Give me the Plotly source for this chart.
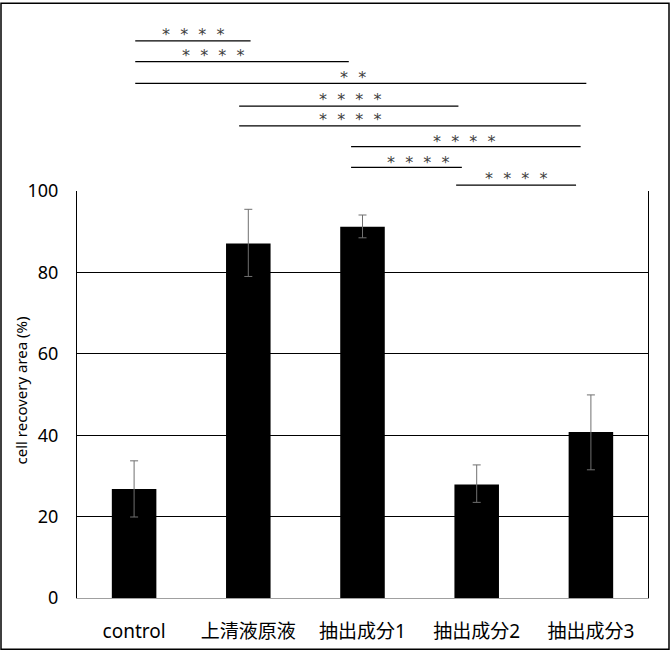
import plotly.graph_objects as go

categories = ["control", "上清液原液", "抽出成分1", "抽出成分2", "抽出成分3"]
recovery = [26.8, 87.1, 91.2, 27.9, 40.8]
err_plus = [6.9, 8.4, 2.9, 4.8, 9.1]
err_minus = [6.9, 8.1, 2.7, 4.4, 9.3]
y_ticks = [0, 20, 40, 60, 80, 100]

# significance brackets: (start, end) in category units, label
sp = "\u00a0\u00a0"
stars4 = sp.join(["*"] * 4)
stars2 = sp.join(["*"] * 2)
comparisons = [
    (0.01, 1.02, stars4),
    (0.01, 1.88, stars4),
    (0.01, 3.96, stars2),
    (0.92, 2.84, stars4),
    (0.92, 3.91, stars4),
    (1.90, 3.91, stars4),
    (1.90, 2.87, stars4),
    (2.82, 3.87, stars4),
]

W, H = 670, 656
L, R, T, B = 77, 22, 191, 53
pw, ph = W - L - R, H - T - B

fig = go.Figure(go.Bar(
    x=categories, y=recovery, width=0.39,
    marker=dict(color="#000000", line=dict(width=0)),
    error_y=dict(type="data", symmetric=False, array=err_plus, arrayminus=err_minus,
                 color="#707070", thickness=1, width=4),
))

def to_paper_x(v):
    return (v + 0.5) / len(categories)

line_px = [39, 60, 82, 105, 125, 146, 167, 185]
text_cx = [193, 213, 353, 350, 350, 464, 418, 516]
text_px = [33, 54, 76, 98, 119, 141, 162, 178]
for (a, b, lab), ly, tx, ty in zip(comparisons, line_px, text_cx, text_px):
    yp = (H - B - ly) / ph
    fig.add_shape(type="line", xref="paper", yref="paper",
                  x0=to_paper_x(a), x1=to_paper_x(b), y0=yp, y1=yp,
                  line=dict(color="#000000", width=1.3))
    fig.add_annotation(text=lab, xref="paper", yref="paper",
                       x=(tx - L) / pw, y=(H - B - ty) / ph,
                       showarrow=False, xanchor="center", yanchor="middle",
                       font=dict(size=16, color="#404040", family="DejaVu Sans"))

# outer frame
fig.add_shape(type="rect", xref="paper", yref="paper",
              x0=(1 - L) / pw, x1=(W - L - 1) / pw,
              y0=(-B + 1) / ph, y1=(H - B - 1) / ph,
              line=dict(color="#000000", width=1.5), fillcolor="rgba(0,0,0,0)")

fig.add_annotation(text="cell recovery area (%)", xref="paper", yref="paper",
                   x=(21 - L) / pw, y=0.51, textangle=-90, showarrow=False,
                   xanchor="center", yanchor="middle",
                   font=dict(size=15, color="#000000", family="Noto Sans"))

fig.update_layout(
    width=W, height=H,
    margin=dict(l=L, r=R, t=T, b=B),
    plot_bgcolor="#ffffff", paper_bgcolor="#ffffff",
    showlegend=False,
    font=dict(family="Noto Sans, Noto Sans CJK JP", color="#000000"),
    xaxis=dict(showline=True, linecolor="#a0a0a0", linewidth=1, ticks="",
               ticklabelstandoff=16,
               tickfont=dict(size=19, family="Noto Sans, Noto Sans CJK JP", color="#000000")),
    yaxis=dict(range=[0, 100], tickvals=y_ticks, showgrid=True, gridcolor="#000000",
               gridwidth=1, zeroline=False, showline=True, linecolor="#000000",
               linewidth=1, mirror=True, ticks="", ticklabelstandoff=14,
               tickfont=dict(size=18, family="Noto Sans", color="#000000")),
)

fig.write_html(
    "out.html",
    config={"displayModeBar": False},
    post_script=("document.documentElement.style.margin='0';"
                 "document.body.style.margin='0';"
                 "document.documentElement.style.overflow='hidden';"
                 "document.body.style.overflow='hidden';"),
)
